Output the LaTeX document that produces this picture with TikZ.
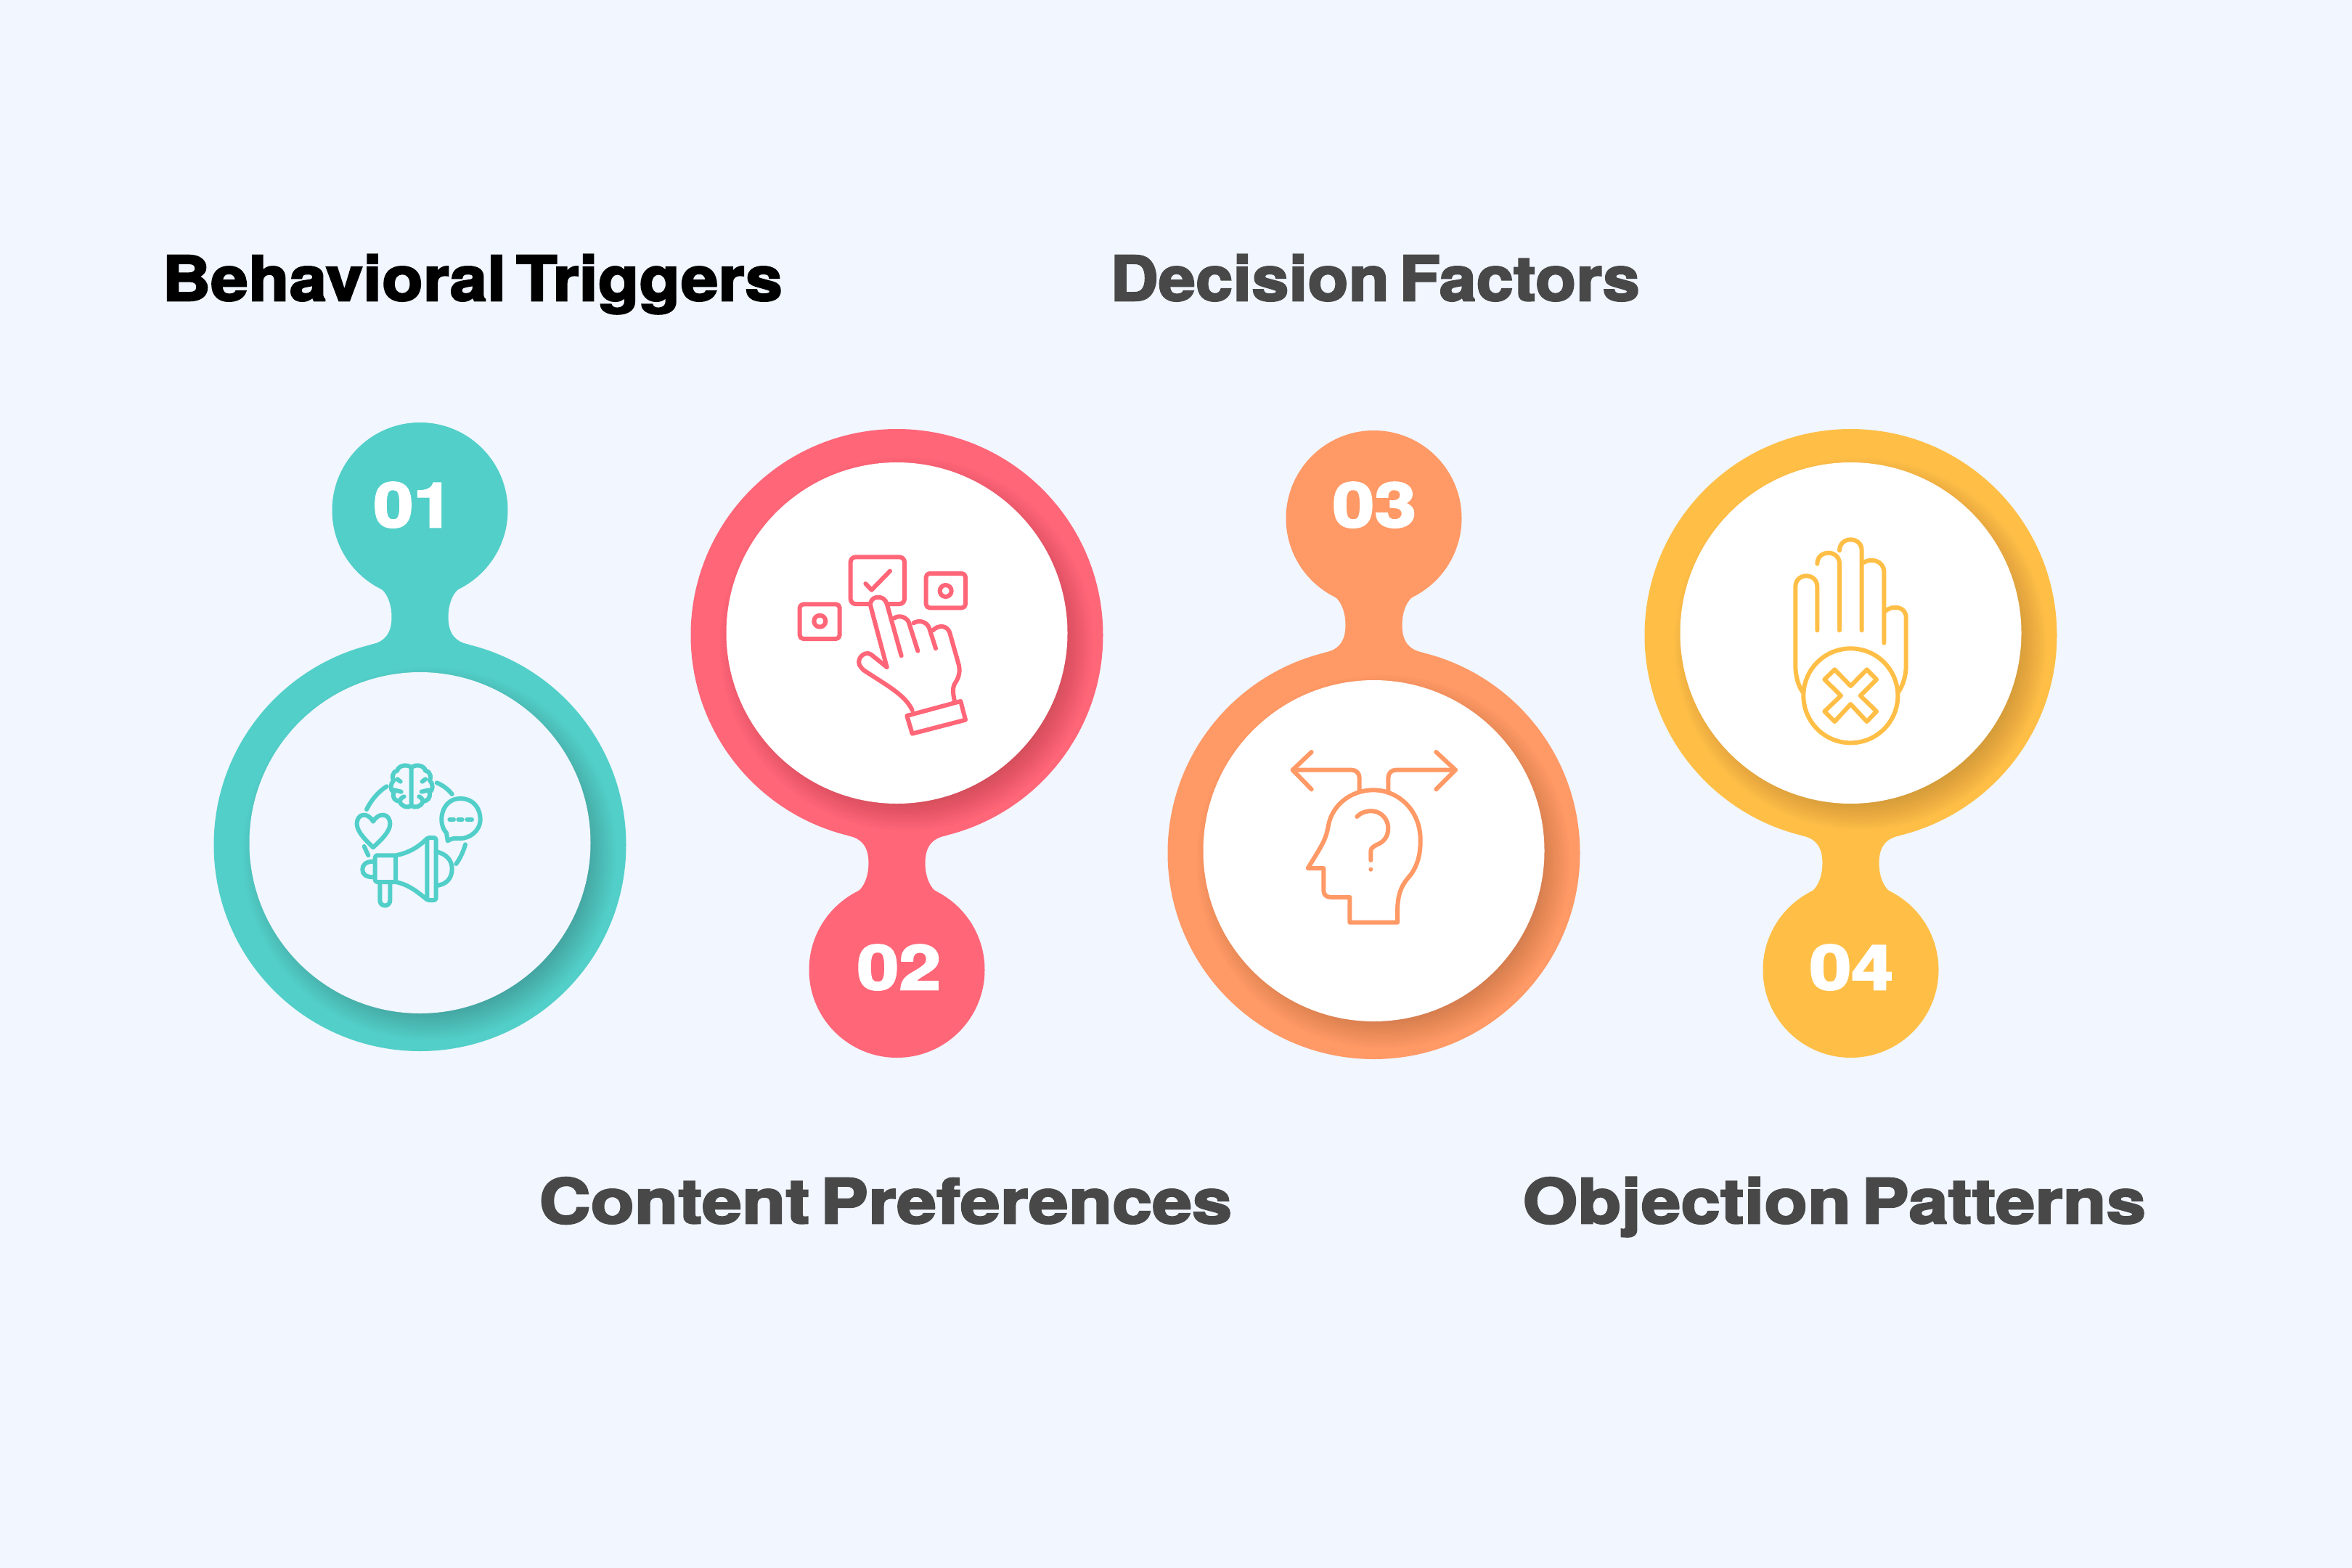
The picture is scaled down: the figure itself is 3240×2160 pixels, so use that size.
\documentclass[tikz,border=0pt]{standalone}
\usepackage{fontspec}
\newfontfamily\hd{TeX Gyre Heros}[WordSpace=0.55,LetterSpace=0.6,BoldFeatures={FakeBold=3}]
\definecolor{bgc}{HTML}{F1F6FF}
\definecolor{teal}{HTML}{52CFC9}
\definecolor{redc}{HTML}{FF6678}
\definecolor{orangec}{HTML}{FF9966}
\definecolor{yellowc}{HTML}{FFBF47}
\definecolor{darkt}{HTML}{484848}
\tikzset{
  heading/.style={anchor=base west,inner sep=0pt,font=\hd\bfseries\fontsize{24.2}{24.2}\selectfont},
  numtext/.style={anchor=base west,inner sep=0pt,text=white,font=\hd\bfseries\fontsize{24.2}{24.2}\selectfont},
  iconline/.style={line width=0.6mm,line cap=round,line join=round},
}
% cx, y of small circle, direction, colour, inner fill
\newcommand{\blobitem}[5]{%
  \pgfmathsetmacro{\bigy}{#2+#3*461}
  \pgfmathsetmacro{\inny}{\bigy-3}
  \begin{scope}[shift={(#1,#2)},yscale=#3]
    \fill[#4] (0,0) circle[radius=121];
    \fill[#4] (0,461) circle[radius=284];
    \fill[#4] (-60,104) .. controls (-46,110) and (-39,128) .. (-39,147)
       .. controls (-39,168) and (-47,181) .. (-68,185)
       -- (68,185) .. controls (47,181) and (39,168) .. (39,147)
       .. controls (39,128) and (46,110) .. (60,104) -- cycle;
  \end{scope}
  \foreach \r in {218,221,...,257}{
    \fill[black,opacity=0.013] ({#1+13},{\inny+15}) circle[radius=\r];
  }
  \fill[#5] (#1,\inny) circle[radius=235];
}
\begin{document}
\begin{tikzpicture}[x=0.1mm,y=-0.1mm]
\useasboundingbox (0,0) rectangle (3240,2160);
\fill[bgc] (0,0) rectangle (3240,2160);

\blobitem{578.5}{703}{1}{teal}{bgc}
\blobitem{1235.5}{1336}{-1}{redc}{white}
\blobitem{1892.5}{714}{1}{orangec}{white}
\blobitem{2549.5}{1336}{-1}{yellowc}{white}

\node[heading,text=black,xscale=1.08] (t1) at (223,414) {Behavioral Triggers};
\node[heading,text=darkt,xscale=1.072] (t3) at (1529,414) {Decision Factors};
\node[heading,text=darkt,xscale=1.15] (t2) at (742,1685) {Content Preferences};
\node[heading,text=darkt,xscale=1.14] (t4) at (2097,1685) {Objection Patterns};

\node[numtext,xscale=1.15] (n1) at (514,726) {01};
\node[numtext,xscale=1.21] (n2) at (1180,1363) {02};
\node[numtext,xscale=1.21] (n3) at (1835,726) {03};
\node[numtext,xscale=1.21] (n4) at (2492,1363) {04};

% icon 1: megaphone, brain, heart, bubble
\begin{scope}[shift={(460,1020)},scale=1/3,iconline,draw=teal]
  \draw (320,112) .. controls (340,95) and (375,105) .. (378,125)
     .. controls (405,130) and (400,160) .. (395,165)
     .. controls (412,180) and (410,205) .. (395,215)
     .. controls (400,240) and (385,250) .. (368,252)
     .. controls (360,275) and (335,280) .. (320,270)
     .. controls (305,280) and (280,275) .. (272,252)
     .. controls (255,250) and (240,240) .. (247,215)
     .. controls (232,205) and (232,180) .. (247,165)
     .. controls (240,160) and (238,130) .. (262,125)
     .. controls (265,105) and (300,95) .. (320,112) -- (320,270);
  \draw (262,160) -- (275,170) (250,205) -- (278,212) (272,252) .. controls (272,245) and (280,235) .. (290,232);
  \draw (378,160) -- (365,170) (392,205) -- (362,212) (368,252) .. controls (368,245) and (360,235) .. (352,232);
  \draw (135,285) .. controls (155,245) and (185,210) .. (218,190);
  \draw (425,175) .. controls (450,185) and (470,200) .. (488,222);
  \draw (543,430) .. controls (535,460) and (520,490) .. (505,510);
  \draw (125,438) -- (142,475);
  \draw (162,335) .. controls (140,295) and (95,300) .. (95,345) .. controls (95,380) and (140,420) .. (162,442)
     .. controls (185,420) and (232,380) .. (232,345) .. controls (232,300) and (185,295) .. (162,335) -- cycle;
  \draw (470,415) -- (465,382) .. controls (425,340) and (445,240) .. (522,240)
     .. controls (580,240) and (605,285) .. (605,325) .. controls (605,375) and (560,405) .. (522,405)
     .. controls (505,405) and (495,400) .. (470,415) -- cycle;
  \draw (478,327) -- (495,327) (514,327) -- (530,327) (550,327) -- (570,327);
  \draw[rounded corners=0.3mm] (170,475) rectangle (255,585);
  \draw (165,500) .. controls (130,500) and (118,515) .. (118,533) .. controls (118,552) and (130,565) .. (165,565);
  \draw (190,590) -- (190,660) .. controls (190,690) and (232,690) .. (232,660) -- (232,590);
  \draw (255,475) .. controls (310,465) and (350,440) .. (385,405);
  \draw (255,585) .. controls (310,595) and (350,630) .. (385,658);
  \draw[rounded corners=0.3mm] (385,402) rectangle (422,660);
  \draw (425,460) .. controls (465,470) and (488,495) .. (488,530) .. controls (488,570) and (465,595) .. (425,600);
\end{scope}

% icon 2: hand pressing a box
\begin{scope}[shift={(1080,740)},scale=1/3,iconline,draw=redc]
  \draw[rounded corners=0.7mm] (275,82) rectangle (498,276);
  \draw (337,192) -- (362,218) -- (438,140);
  \draw[rounded corners=0.5mm] (587,150) rectangle (750,292);
  \draw (668,222) circle[radius=24];
  \draw[rounded corners=0.5mm] (65,277) rectangle (230,420);
  \draw (148,347) circle[radius=24];
  \fill[white] (358,285) .. controls (350,240) and (415,235) .. (425,275) -- (450,340) -- (420,500) -- cycle;
  \draw (425,537) -- (358,285) .. controls (350,240) and (415,235) .. (425,275) -- (485,490);
  \draw (455,335) .. controls (475,320) and (505,330) .. (515,350) -- (553,470);
  \draw (535,355) .. controls (560,340) and (590,350) .. (600,375) -- (627,460);
  \draw (615,385) .. controls (640,360) and (675,365) .. (685,395) -- (723,530)
     .. controls (730,570) and (715,590) .. (703,610) .. controls (695,630) and (700,650) .. (705,680);
  \draw (425,537) -- (360,485) .. controls (330,465) and (290,510) .. (320,540)
     -- (330,550) .. controls (420,610) and (500,650) .. (530,715);
  \draw (508,738) -- (730,678) -- (750,755) -- (530,812) -- cycle;
\end{scope}

% icon 3: head with question mark and two arrows
\begin{scope}[shift={(1760,1010)},scale=1/3,iconline,draw=orangec]
  \draw (140,78) -- (62,152) -- (140,232);
  \draw (62,152) -- (305,152) .. controls (325,152) and (338,165) .. (338,185) -- (338,240);
  \draw (655,78) -- (735,152) -- (655,232);
  \draw (735,152) -- (490,152) .. controls (470,152) and (457,165) .. (457,185) -- (457,240);
  \draw (125,558) -- (190,558) -- (190,650) .. controls (190,668) and (202,678) .. (220,678) -- (298,678) -- (298,782) -- (495,782) -- (495,740)
     .. controls (495,650) and (520,620) .. (550,585) .. controls (590,530) and (590,470) .. (590,440)
     .. controls (590,320) and (500,235) .. (395,235) .. controls (300,235) and (225,300) .. (210,380)
     .. controls (200,440) and (185,460) .. (125,558) -- cycle;
  \draw (328,345) .. controls (350,320) and (395,315) .. (420,330) .. controls (465,355) and (470,420) .. (430,450)
     .. controls (410,465) and (385,465) .. (385,490) -- (385,525);
  \fill[orangec] (385,563) circle[radius=9];
\end{scope}

% icon 4: raised hand with a cross
\begin{scope}[shift={(2440,720)},scale=1/3,iconline,draw=yellowc]
  \draw (130,700) .. controls (115,680) and (100,640) .. (100,590) -- (100,265)
     .. controls (100,205) and (190,205) .. (190,265) -- (190,445);
  \draw (190,170) .. controls (190,110) and (282,110) .. (282,170) -- (282,445);
  \draw (282,115) .. controls (282,55) and (374,55) .. (374,115) -- (374,445);
  \draw (382,165) .. controls (410,145) and (466,155) .. (466,205) -- (466,497);
  \draw (472,365) .. controls (500,340) and (557,345) .. (557,392) -- (557,590)
     .. controls (557,640) and (540,680) .. (525,700);
  \draw (328,715) circle[radius=195];
  \draw (262,607) -- (328,675) -- (395,607) -- (435,648) -- (368,715) -- (435,780) -- (395,822) -- (328,750)
     -- (262,822) -- (220,780) -- (288,715) -- (220,648) -- cycle;
\end{scope}
\end{tikzpicture}
\end{document}
